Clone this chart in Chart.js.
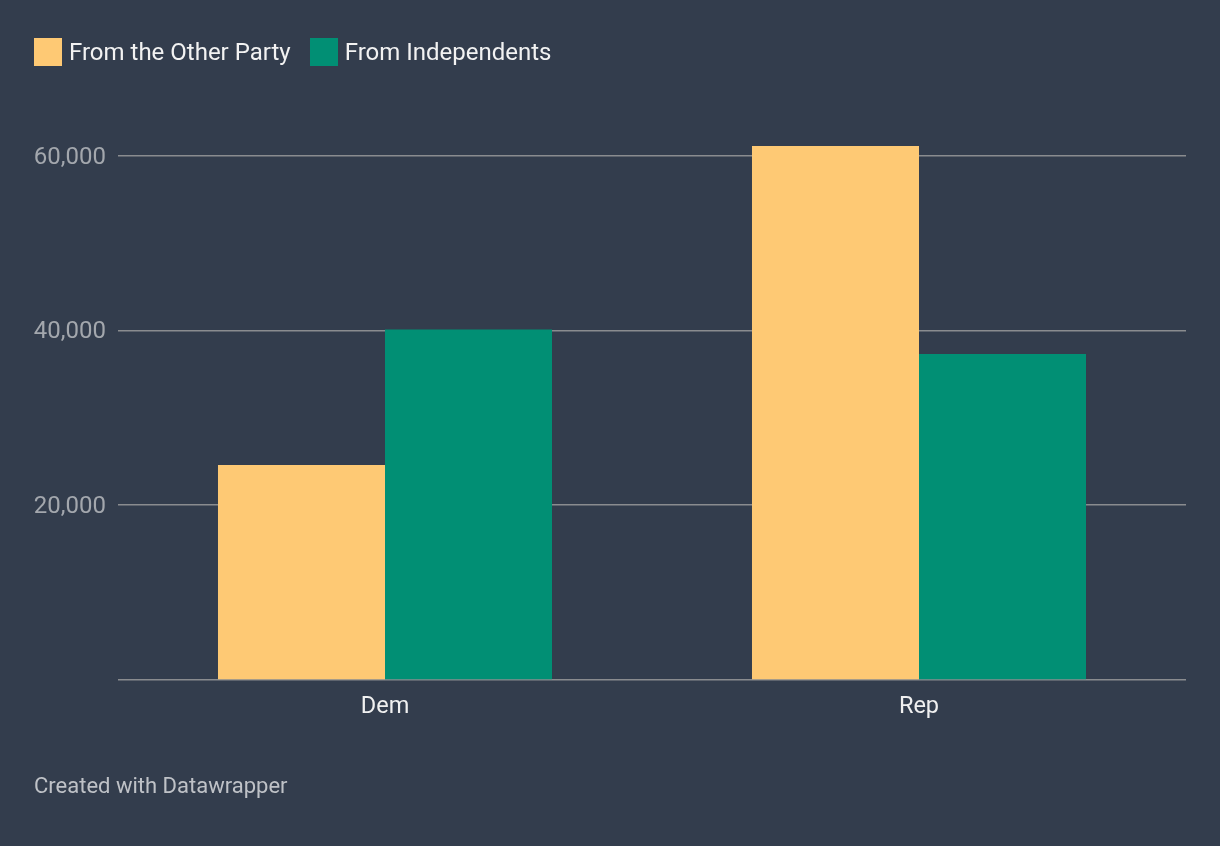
<!DOCTYPE html>
<html>
<head>
<meta charset="utf-8">
<script src="https://cdn.jsdelivr.net/npm/chart.js@4.4.0/dist/chart.umd.min.js"></script>
<style>
  html, body { margin: 0; padding: 0; background: #333d4d; }
  body { width: 1220px; height: 846px; position: relative; overflow: hidden; font-family: Roboto, sans-serif; }
  #legend { position: absolute; left: 34px; top: 38px; display: flex; align-items: center; color: #f2f2f2; font-size: 24px; line-height: 28px; }
  .item { display: flex; align-items: center; margin-right: 19px; }
  .box { width: 28px; height: 28px; margin-right: 7px; }
  #footer { position: absolute; left: 34px; top: 773px; color: #bfc2c7; font-size: 22px; }
  #wrap { position: absolute; left: 0; top: 0; width: 1220px; height: 846px; }
</style>
</head>
<body>
<div id="wrap"><canvas id="chart"></canvas></div>
<div id="legend"></div>
<div id="footer">Created with Datawrapper</div>
<script>
// data
const categories = ['Dem', 'Rep'];
const seriesNames = ['From the Other Party', 'From Independents'];
const otherParty = [24600, 61100];
const independents = [40100, 37300];
const yTicks = [0, 20000, 40000, 60000];

const colors = ['#fec974', '#018f74'];

// html legend
const legend = document.getElementById('legend');
seriesNames.forEach(function(name, i) {
    const item = document.createElement('div');
    item.className = 'item';
    item.innerHTML = '<div class="box" style="background:' + colors[i] + '"></div><span>' + name + '</span>';
    legend.appendChild(item);
});

const ctx = document.getElementById('chart');
new Chart(ctx, {
    type: 'bar',
    data: {
        labels: categories,
        datasets: [{
            label: seriesNames[0],
            data: otherParty,
            backgroundColor: colors[0]
        }, {
            label: seriesNames[1],
            data: independents,
            backgroundColor: colors[1]
        }]
    },
    options: {
        responsive: true,
        maintainAspectRatio: false,
        animation: false,
        layout: {
            padding: { left: 0, right: 34, top: 146, bottom: 116 }
        },
        datasets: {
            bar: { barPercentage: 1, categoryPercentage: 0.6255 }
        },
        plugins: {
            legend: { display: false },
            tooltip: { enabled: false }
        },
        scales: {
            x: {
                grid: { display: false },
                border: { display: false },
                ticks: {
                    color: '#f0f0f0',
                    font: { family: 'Roboto', size: 23.5 },
                    padding: 5
                },
                afterFit: function(scale) { scale.height = 50; }
            },
            y: {
                min: 0,
                max: 61100,
                afterBuildTicks: function(scale) {
                    scale.ticks = yTicks.map(function(v) { return { value: v }; });
                },
                grid: { color: '#8a8c8f', lineWidth: 1.6, drawTicks: false },
                border: { display: false },
                ticks: {
                    color: '#a3a7ad',
                    font: { family: 'Roboto', size: 24 },
                    padding: 12,
                    labelOffset: 2,
                    callback: function(v) { return v === 0 ? '' : v.toLocaleString('en-US'); }
                },
                afterFit: function(scale) { scale.width = 118; }
            }
        }
    }
});
</script>
</body>
</html>
